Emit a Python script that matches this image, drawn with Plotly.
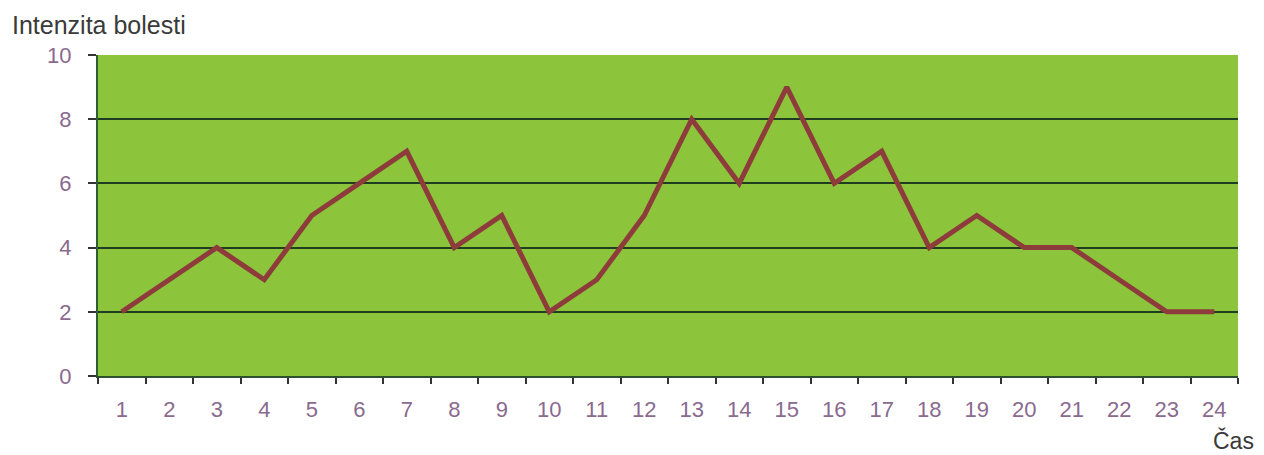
import plotly.graph_objects as go

hours = [str(i) for i in range(1, 25)]
pain = [2, 3, 4, 3, 5, 6, 7, 4, 5, 2, 3, 5, 8, 6, 9, 6, 7, 4, 5, 4, 4, 3, 2, 2]
y_ticks = [0, 2, 4, 6, 8, 10]

fig = go.Figure()
fig.add_trace(go.Scatter(
    x=hours, y=pain, mode="lines",
    line=dict(color="#8e3b3b", width=5),
    hoverinfo="x+y",
))

tick_font = dict(family="Liberation Sans, Arial, sans-serif", size=22, color="#8a6a8e")

W_PLOT = 1140
H_PLOT = 321

fig.update_layout(
    width=1264, height=455,
    margin=dict(l=98, r=26, t=55, b=79),
    paper_bgcolor="white",
    plot_bgcolor="#8cc43c",
    showlegend=False,
    xaxis=dict(
        type="category",
        tickson="boundaries",
        ticks="outside", ticklen=6, tickwidth=2, tickcolor="#333333",
        showgrid=False,
        showline=True, linecolor="#2f4f2f", linewidth=2,
        tickfont=tick_font,
        ticklabelstandoff=13,
        range=[-0.5, 23.5],
        fixedrange=True,
    ),
    yaxis=dict(
        range=[0, 10],
        tickvals=y_ticks,
        ticks="outside", ticklen=8, tickwidth=2, tickcolor="#333333",
        showgrid=True, gridcolor="#1f3d1f", gridwidth=2,
        zeroline=False,
        showline=True, linecolor="#2f5f2f", linewidth=2,
        tickfont=tick_font,
        ticklabelstandoff=12,
        fixedrange=True,
    ),
    annotations=[
        dict(text="Intenzita bolesti", xref="paper", yref="paper",
             x=(10 - 98) / W_PLOT, y=1 + (55 - 25) / H_PLOT,
             xanchor="left", yanchor="middle", showarrow=False,
             font=dict(family="Liberation Sans, Arial, sans-serif", size=25, color="#3a3a3a")),
        dict(text="Čas", xref="paper", yref="paper",
             x=(1256 - 98) / W_PLOT, y=-(440 - 376) / H_PLOT,
             xanchor="right", yanchor="middle", showarrow=False,
             font=dict(family="Liberation Sans, Arial, sans-serif", size=23, color="#3a3a3a")),
    ],
)

fig.write_html("out.html")
